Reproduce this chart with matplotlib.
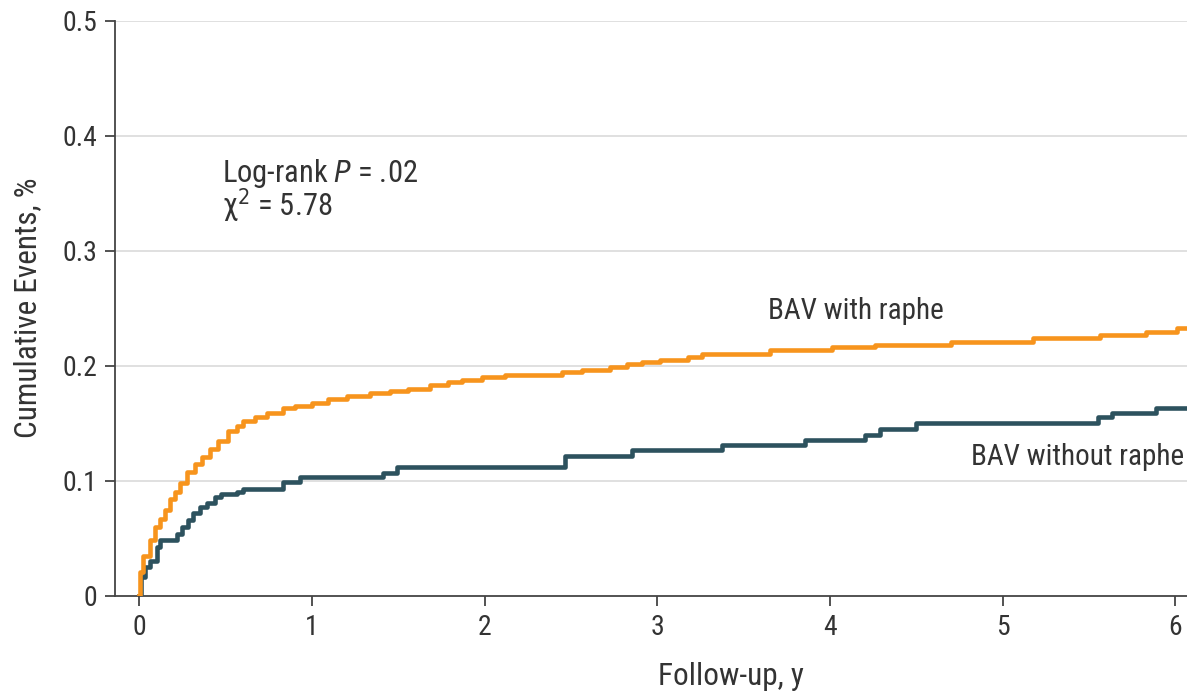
import matplotlib
matplotlib.use("Agg")
import matplotlib.pyplot as plt
from matplotlib.ticker import FuncFormatter

plt.rcParams['font.family'] = ['Roboto Condensed', 'Liberation Sans Narrow', 'Roboto', 'DejaVu Sans']
plt.rcParams['font.stretch'] = 'condensed'

# cumulative event curves (step times in years, cumulative fraction after each step)
raphe_t = [0, 0.002, 0.023, 0.062, 0.091, 0.12, 0.149, 0.178, 0.207, 0.236,
           0.278, 0.322, 0.361, 0.41, 0.457, 0.515, 0.564, 0.602, 0.67, 0.738,
           0.834, 0.90, 1.0, 1.09, 1.20, 1.336, 1.45, 1.557, 1.683, 1.789,
           1.867, 1.983, 2.117, 2.446, 2.562, 2.726, 2.822, 2.909, 3.015, 3.179,
           3.256, 3.652, 4.009, 4.26, 4.70, 5.177, 5.563, 5.83, 6.007, 6.1]
raphe_y = [0, 0.021, 0.035, 0.049, 0.060, 0.067, 0.075, 0.084, 0.090, 0.098,
           0.108, 0.115, 0.121, 0.128, 0.135, 0.143, 0.148, 0.152, 0.156, 0.159,
           0.163, 0.165, 0.168, 0.171, 0.174, 0.1765, 0.178, 0.180, 0.183, 0.186,
           0.188, 0.190, 0.1925, 0.195, 0.196, 0.199, 0.202, 0.2035, 0.2055, 0.208,
           0.210, 0.2137, 0.216, 0.218, 0.221, 0.2244, 0.2267, 0.2296, 0.233, 0.233]

no_raphe_t = [0, 0.008, 0.033, 0.062, 0.10, 0.12, 0.217, 0.245, 0.284, 0.313,
              0.351, 0.39, 0.438, 0.471, 0.564, 0.602, 0.834, 0.93, 1.413, 1.49,
              2.465, 2.851, 3.372, 3.855, 4.202, 4.289, 4.50, 5.553, 5.63, 5.89, 6.1]
no_raphe_y = [0, 0.0165, 0.025, 0.030, 0.043, 0.049, 0.054, 0.060, 0.066, 0.072,
              0.077, 0.081, 0.086, 0.089, 0.090, 0.093, 0.099, 0.1035, 0.107, 0.1125,
              0.1215, 0.127, 0.131, 0.1354, 0.140, 0.1455, 0.150, 0.1557, 0.159, 0.1638, 0.1638]

x_ticks = [0, 1, 2, 3, 4, 5, 6]
y_ticks = [0, 0.1, 0.2, 0.3, 0.4, 0.5]

orange = '#F7941D'
teal = '#2D525E'
txt = '#333333'

W, H = 1187, 691
fig = plt.figure(figsize=(W / 100, H / 100), dpi=100)
ax = fig.add_axes([0.0969, 0.1375, 0.9031, 0.8325])

ax.step(no_raphe_t, no_raphe_y, where='post', color=teal, lw=3.3, zorder=3)
ax.step(raphe_t, raphe_y, where='post', color=orange, lw=3.3, zorder=4)

ax.set_xlim(-0.141, 6.067)
ax.set_ylim(0, 0.5)
ax.set_xticks(x_ticks)
ax.set_yticks(y_ticks)
ax.yaxis.set_major_formatter(FuncFormatter(lambda v, p: '0' if v == 0 else f'{v:.1f}'))

for y in y_ticks[1:]:
    ax.axhline(y, color='#DDDDDD', lw=1.3, zorder=1)

for s in ['top', 'right']:
    ax.spines[s].set_visible(False)
for s in ['left', 'bottom']:
    ax.spines[s].set_color('#444444')
    ax.spines[s].set_linewidth(1.3)

ax.tick_params(axis='both', direction='out', length=7, width=1.3, color='#444444',
               labelsize=20, labelcolor=txt, pad=6)

# axis titles placed in figure pixels
fig.text(731 / W, 1 - 685 / H, 'Follow-up, y', fontsize=22.5, color=txt,
         ha='center', va='baseline')
fig.text(28 / W, 1 - 308 / H, 'Cumulative Events, %', fontsize=22.5, color=txt,
         ha='center', va='center', rotation=90)

ax.text(0.479, 0.3597, 'Log-rank $\\it{P}$ = .02', fontsize=22, color=txt, va='baseline')
ax.text(0.479, 0.330, 'χ$^2$ = 5.78', fontsize=22, color=txt, va='baseline')

ax.text(3.64, 0.2406, 'BAV with raphe', fontsize=21, color=txt, va='baseline')
ax.text(4.815, 0.1137, 'BAV without raphe', fontsize=21, color=txt, va='baseline')

fig.savefig('out.png', dpi=100)
